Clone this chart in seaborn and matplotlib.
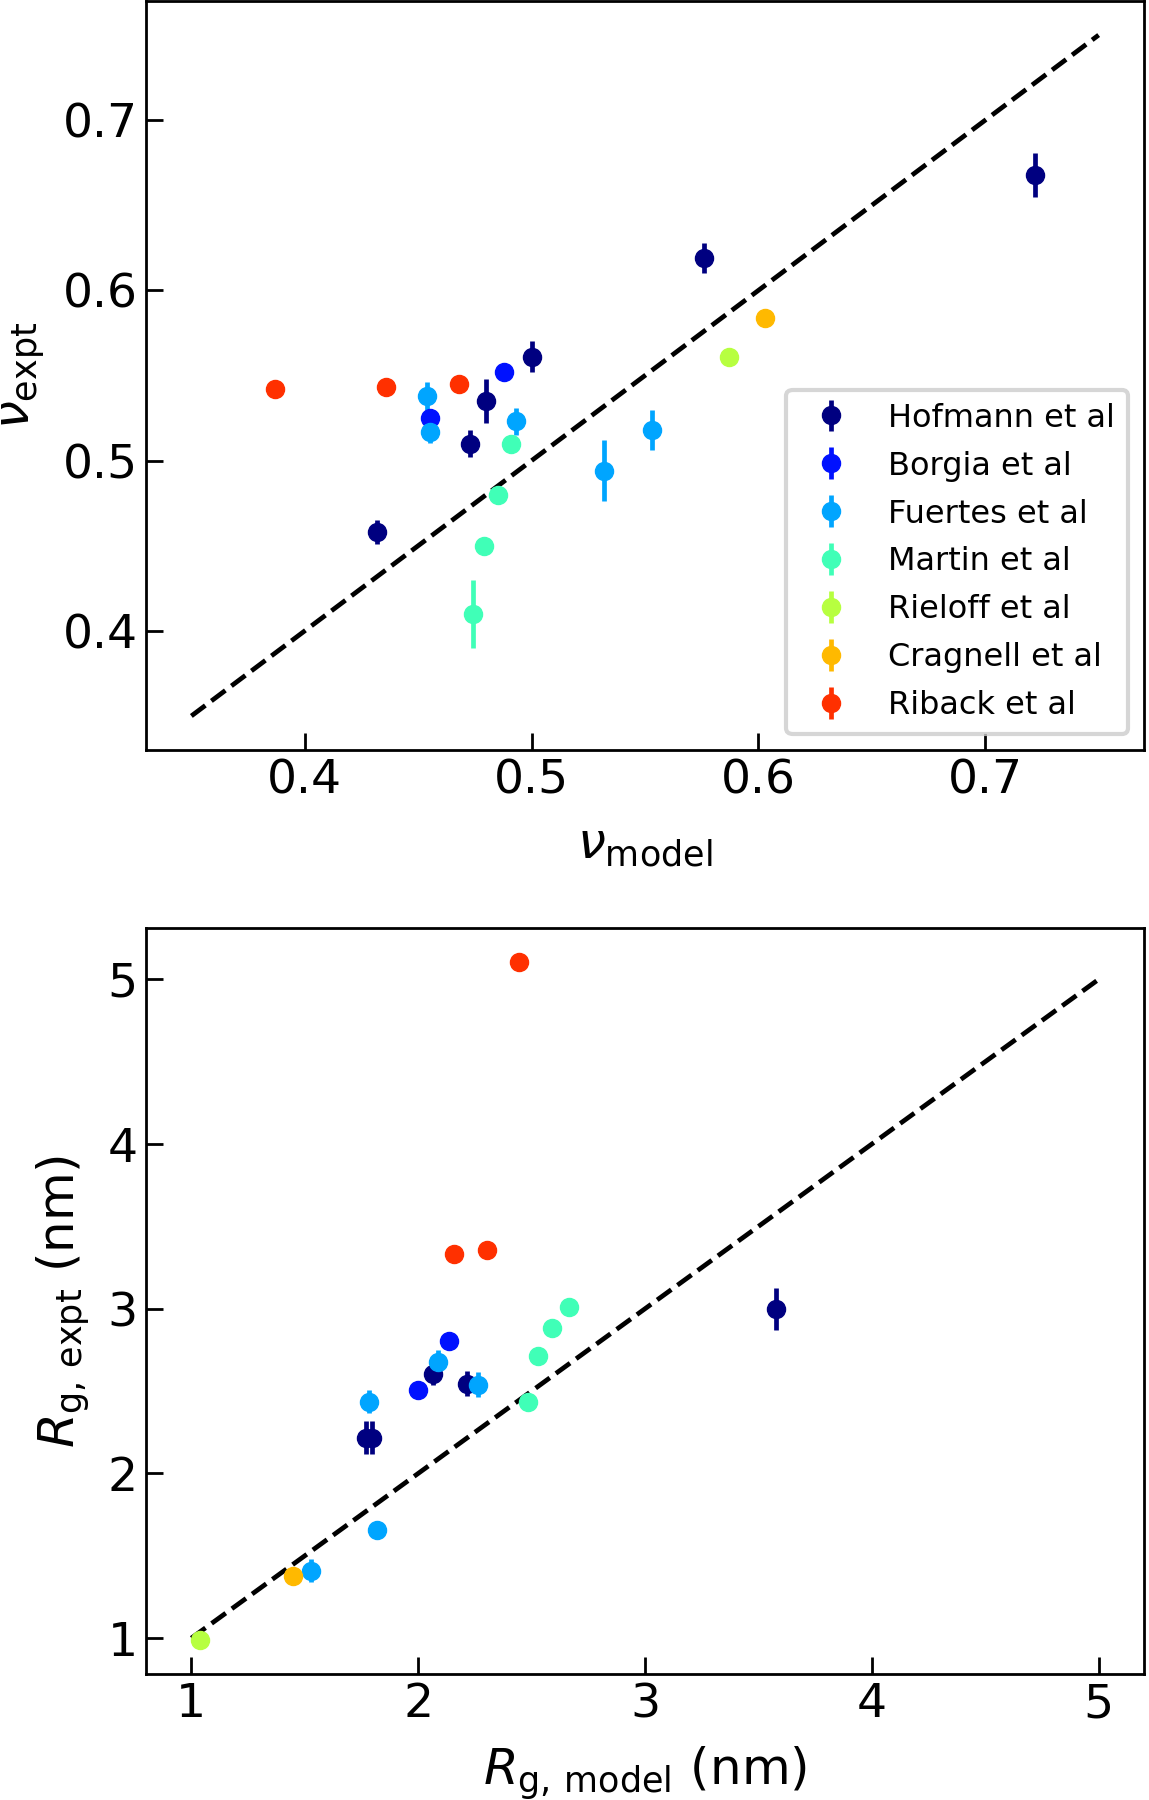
import numpy as np
import pandas as pd
import matplotlib
matplotlib.use("Agg")
import matplotlib.pyplot as plt
import seaborn as sns

studies = ["Hofmann et al", "Borgia et al", "Fuertes et al", "Martin et al",
           "Rieloff et al", "Cragnell et al", "Riback et al"]

# scaling exponent nu, model vs experiment
nu_study = ["Hofmann et al"] * 6 + ["Borgia et al"] * 2 + ["Fuertes et al"] * 5 \
    + ["Martin et al"] * 4 + ["Rieloff et al"] + ["Cragnell et al"] + ["Riback et al"] * 3
nu_model = [0.432, 0.473, 0.480, 0.500, 0.576, 0.722,
            0.488, 0.455,
            0.454, 0.455, 0.493, 0.532, 0.553,
            0.491, 0.485, 0.479, 0.474,
            0.587,
            0.603,
            0.387, 0.436, 0.468]
nu_expt = [0.458, 0.510, 0.535, 0.561, 0.619, 0.668,
           0.552, 0.525,
           0.538, 0.517, 0.523, 0.494, 0.518,
           0.510, 0.480, 0.450, 0.410,
           0.561,
           0.584,
           0.542, 0.543, 0.545]
nu_err = [0.007, 0.008, 0.013, 0.009, 0.009, 0.013,
          0.0, 0.0,
          0.008, 0.0065, 0.008, 0.018, 0.012,
          0.0, 0.0, 0.0, 0.020,
          0.0,
          0.0,
          0.0, 0.0, 0.0]

# radius of gyration (nm), model vs experiment
rg_study = ["Hofmann et al"] * 5 + ["Borgia et al"] * 2 + ["Fuertes et al"] * 5 \
    + ["Martin et al"] * 4 + ["Rieloff et al"] + ["Cragnell et al"] + ["Riback et al"] * 3
rg_model = [1.771, 1.798, 2.064, 2.215, 3.578,
            1.998, 2.138,
            1.785, 2.087, 2.262, 1.817, 1.528,
            2.482, 2.527, 2.589, 2.663,
            1.04,
            1.446,
            2.445, 2.158, 2.303]
rg_expt = [2.218, 2.218, 2.604, 2.545, 3.0,
           2.507, 2.807,
           2.435, 2.679, 2.538, 1.658, 1.41,
           2.435, 2.715, 2.886, 3.008,
           0.988,
           1.378,
           5.106, 3.334, 3.357]
rg_err = [0.10, 0.10, 0.066, 0.074, 0.127,
          0.0, 0.0,
          0.069, 0.071, 0.076, 0.03, 0.07,
          0.0, 0.0, 0.0, 0.0,
          0.0,
          0.0,
          0.0, 0.0, 0.0]

diag_nu = [0.35, 0.75]
diag_rg = [1, 5]
nu_ticks = [0.4, 0.5, 0.6, 0.7]
rg_ticks = [1, 2, 3, 4, 5]

nu_df = pd.DataFrame({"study": nu_study, "model": nu_model, "expt": nu_expt, "err": nu_err})
rg_df = pd.DataFrame({"study": rg_study, "model": rg_model, "expt": rg_expt, "err": rg_err})

sns.set_style("ticks", {"xtick.direction": "in", "ytick.direction": "in",
                        "axes.edgecolor": "black", "text.color": "black",
                        "axes.labelcolor": "black", "xtick.color": "black",
                        "ytick.color": "black"})
plt.rcParams["font.family"] = ["DejaVu Sans"]
colors = sns.color_palette([plt.cm.jet(i / 7) for i in range(7)])

fig = plt.figure(figsize=(11.49, 18.0), dpi=100)
ax1 = fig.add_axes([146 / 1149, 1 - 750 / 1800, 998 / 1149, 749 / 1800])
ax2 = fig.add_axes([146 / 1149, 1 - 1674 / 1800, 998 / 1149, 746 / 1800])


def draw(ax, df, diag):
    sns.lineplot(x=diag, y=diag, color="black", linestyle="--", linewidth=3.4, ax=ax)
    for name, c in zip(studies, colors):
        d = df[df["study"] == name]
        ax.errorbar(d["model"], d["expt"], yerr=d["err"], fmt="o", color=c,
                    markersize=13, elinewidth=3.4, capsize=0, label=name)
    for s in ax.spines.values():
        s.set_linewidth(2)
    ax.tick_params(direction="in", length=12.5, width=2, labelsize=34, pad=6,
                   top=False, right=False, colors="black")


draw(ax1, nu_df, diag_nu)
ax1.set_xticks(nu_ticks)
ax1.set_yticks(nu_ticks)
ax1.set_xlabel(r"$\nu_{\rm model}$", fontsize=36, labelpad=13)
ax1.set_ylabel(r"$\nu_{\rm expt}$", fontsize=36, labelpad=11)
leg = ax1.legend(loc="lower right", fontsize=23, labelspacing=0.53, framealpha=0.8)
leg.get_frame().set_edgecolor("0.8")
leg.get_frame().set_linewidth(3)

draw(ax2, rg_df, diag_rg)
ax2.set_xticks(rg_ticks)
ax2.set_yticks(rg_ticks)
ax2.set_xlabel(r"$R_{\rm g,\,model}$ (nm)", fontsize=36, labelpad=13)
ax2.set_ylabel(r"$R_{\rm g,\,expt}$ (nm)", fontsize=36, labelpad=11)

fig.savefig("out.png", dpi=100)
